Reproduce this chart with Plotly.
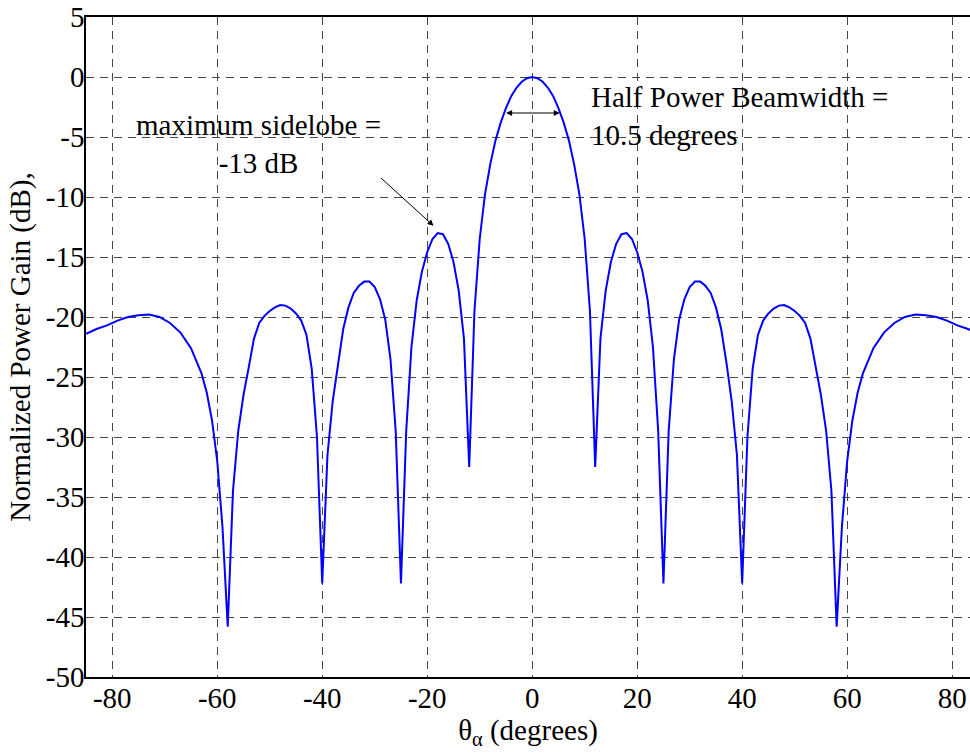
import plotly.graph_objects as go

# Angle (degrees) and normalized power gain (dB)
theta_deg = [
    -85, -83, -81, -79, -77, -75, -73, -71, -69, -67, -65, -63, -62, -61, -60, -59, -58,
    -57, -56, -55, -54, -53, -52, -51, -50, -49, -48, -47, -46, -45, -44, -43, -42, -41, -40,
    -39, -38, -37, -36, -35, -34, -33, -32, -31, -30, -29, -28, -27, -26, -25,
    -24, -23, -22, -21, -20, -19, -18, -17, -16, -15, -14, -13, -12,
    -11, -10, -9, -8, -7, -6, -5, -4, -3, -2, -1, 0,
    1, 2, 3, 4, 5, 6, 7, 8, 9, 10, 11,
    12, 13, 14, 15, 16, 17, 18, 19, 20, 21, 22, 23, 24,
    25, 26, 27, 28, 29, 30, 31, 32, 33, 34, 35, 36, 37, 38, 39,
    40, 41, 42, 43, 44, 45, 46, 47, 48, 49, 50, 51, 52, 53, 54, 55, 56, 57,
    58, 59, 60, 61, 62, 63, 65, 67, 69, 71, 73, 75, 77, 79, 81, 83, 85,
]
gain_db = [
    -21.4, -21.0, -20.7, -20.3, -20.0, -19.85, -19.8, -20.0, -20.5, -21.3, -22.6, -24.7, -26.3, -28.6, -32.0, -37.5, -45.8,
    -34.5, -29.5, -26.5, -24.2, -21.8, -20.5, -19.9, -19.5, -19.2, -19.0, -19.05, -19.3, -19.7, -20.3, -21.5, -24.3, -30.0, -42.2,
    -31.5, -27.0, -23.8, -21.0, -19.2, -18.0, -17.4, -17.05, -17.05, -17.5, -18.5, -20.2, -23.5, -29.5, -42.2,
    -29.5, -22.5, -18.6, -16.2, -14.6, -13.5, -13.0, -13.1, -13.9, -15.4, -17.8, -21.8, -32.5,
    -19.5, -13.5, -9.8, -7.3, -5.3, -3.8, -2.6, -1.6, -0.9, -0.4, -0.1, 0.0,
    -0.1, -0.4, -0.9, -1.6, -2.6, -3.8, -5.3, -7.3, -9.8, -13.5, -19.5,
    -32.5, -21.8, -17.8, -15.4, -13.9, -13.1, -13.0, -13.5, -14.6, -16.2, -18.6, -22.5, -29.5,
    -42.2, -29.5, -23.5, -20.2, -18.5, -17.5, -17.05, -17.05, -17.4, -18.0, -19.2, -21.0, -23.8, -27.0, -31.5,
    -42.2, -30.0, -24.3, -21.5, -20.3, -19.7, -19.3, -19.05, -19.0, -19.2, -19.5, -19.9, -20.5, -21.8, -24.2, -26.5, -29.5, -34.5,
    -45.8, -37.5, -32.0, -28.6, -26.3, -24.7, -22.6, -21.3, -20.5, -20.0, -19.8, -19.85, -20.0, -20.3, -20.7, -21.0, -21.4,
]

x_ticks = [-80, -60, -40, -20, 0, 20, 40, 60, 80]
y_ticks = [-50, -45, -40, -35, -30, -25, -20, -15, -10, -5, 0, 5]

FONT = "Liberation Serif, Times New Roman, serif"
FS = 29
GRID = "#474747"

fig = go.Figure()
fig.add_trace(go.Scatter(
    x=theta_deg, y=gain_db, mode="lines",
    line=dict(color="#0000FF", width=2), showlegend=False, hoverinfo="x+y",
))

fig.update_layout(
    width=970, height=753,
    margin=dict(l=86, r=0, t=17, b=76),
    paper_bgcolor="white", plot_bgcolor="white",
    font=dict(family=FONT, size=FS, color="black"),
    showlegend=False,
    xaxis=dict(
        range=[-85, 83.4], tickvals=x_ticks, ticktext=[str(v) for v in x_ticks],
        showgrid=True, gridcolor=GRID, griddash="8px,6px", gridwidth=1,
        showline=True, linecolor="black", linewidth=1.5, mirror=True,
        ticks="", zeroline=False, automargin=False, ticklabelstandoff=-6,
        ticklabeloverflow="allow", tickfont=dict(size=FS),
        title=dict(text="θ<sub>α</sub> (degrees)", standoff=2, font=dict(size=FS)),
    ),
    yaxis=dict(
        range=[-50, 5], tickvals=y_ticks, ticktext=[str(v) for v in y_ticks],
        showgrid=True, gridcolor=GRID, griddash="8px,6px", gridwidth=1,
        showline=True, linecolor="black", linewidth=1.5, mirror=False,
        ticks="", zeroline=False, automargin=False, ticklabelstandoff=-6,
        ticklabeloverflow="allow", tickfont=dict(size=FS),
        title=dict(text="Normalized Power Gain (dB),", standoff=7, font=dict(size=FS)),
    ),
)

fig.add_annotation(
    x=-18.8, y=-12.4, ax=-29.1, ay=-8.3, axref="x", ayref="y", xref="x", yref="y",
    text="", showarrow=True, arrowhead=2, arrowsize=1.2, arrowwidth=1, arrowcolor="black",
)
fig.add_annotation(
    x=-52.2, y=-5.6, xref="x", yref="y", text="maximum sidelobe =<br>-13 dB",
    showarrow=False, align="center", font=dict(family=FONT, size=FS, color="black"),
)
fig.add_annotation(
    x=5.25, y=-3.0, ax=-5.25, ay=-3.0, axref="x", ayref="y", xref="x", yref="y",
    text="", showarrow=True, arrowhead=2, startarrowhead=2, arrowside="end+start",
    arrowsize=1.2, startarrowsize=1.2, arrowwidth=1, arrowcolor="black",
)
fig.add_annotation(
    x=10.86, y=-3.25, xref="x", yref="y", xanchor="left", text="Half Power Beamwidth =<br>10.5 degrees",
    showarrow=False, align="left", font=dict(family=FONT, size=FS, color="black"),
)

# remove the default 8px page margin so the 970x753 figure fills the window exactly
fig.write_html(
    "out.html",
    config={"displayModeBar": False},
    post_script="document.body.style.margin='0';document.body.style.overflow='hidden';",
)
